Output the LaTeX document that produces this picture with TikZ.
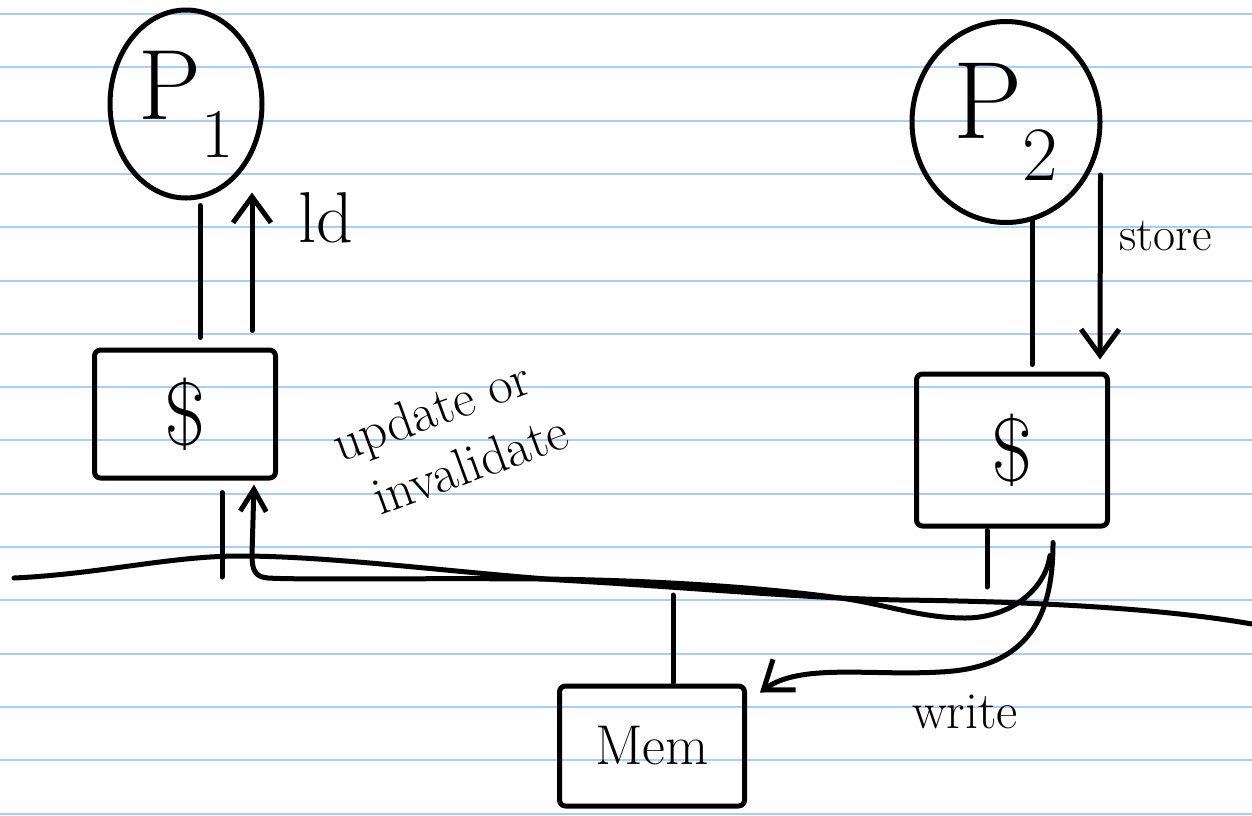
\documentclass[tikz,border=0pt]{standalone}
\usepackage{fontspec}
\usetikzlibrary{shapes.geometric,arrows.meta,calc}
\definecolor{ruleblue}{RGB}{166,206,248}
\tikzset{
  ink/.style={line width=5pt, line cap=round, line join=round, draw=black},
  proc/.style={ink, ellipse, inner sep=0pt},
  cachebox/.style={ink, rectangle, rounded corners=6pt, inner sep=0pt},
  barb/.style={-{Straight Barb[length=26pt,width=38pt]}},
  smallbarb/.style={-{Straight Barb[length=22pt,width=26pt]}},
  lbl/.style={inner sep=0pt},
}
\begin{document}
\begin{tikzpicture}[x=1pt,y=-1pt]
\useasboundingbox (0,0) rectangle (1252,815);
\fill[white] (0,0) rectangle (1252,815);
% ruled paper
\foreach \k in {0,...,15}
  \draw[ruleblue, line width=2pt] (0,{14+53.3*\k}) -- (1252,{14+53.3*\k});

% processors
\node[proc, minimum width=152pt, minimum height=188pt] (P1) at (186,104)
  {\fontsize{100}{100}\selectfont P\textsubscript{1}};
\node[proc, minimum width=188pt, minimum height=201pt] (P2) at (1006,122)
  {\fontsize{110}{110}\selectfont P\textsubscript{2}};

% caches and memory
\node[cachebox, minimum width=181pt, minimum height=128pt] (c1) at (185,414)
  {\fontsize{90}{90}\selectfont\$};
\node[cachebox, minimum width=191pt, minimum height=152pt] (c2) at (1012,450)
  {\fontsize{90}{90}\selectfont\$};
\node[cachebox, minimum width=185pt, minimum height=120pt] (mem) at (652,746)
  {\fontsize{56}{56}\selectfont Mem};

% labels
\node[lbl, font=\fontsize{72}{72}\selectfont] (ldl) at (326,218) {ld};
\node[lbl, font=\fontsize{48}{48}\selectfont] (storel) at (1166,236) {store};
\node[lbl, font=\fontsize{53}{64}\selectfont, rotate=20, align=left] (updl) at (450,437)
  {update or\\\hspace*{19pt}invalidate};
\node[lbl, font=\fontsize{52}{52}\selectfont] (writel) at (965,712) {write};

% bus
\coordinate (busW) at (14,578);
\coordinate (busE) at (1252,624);
\coordinate (busC1) at (222,577);
\coordinate (busM) at (673,595);
\coordinate (busC2) at (987,587);
\draw[ink] (busW) .. controls (100,574) and (170,556) .. (240,556)
  .. controls (330,556) and (450,572) .. (560,580)
  .. controls (700,588) and (800,598) .. (900,600)
  .. controls (1000,601) and (1150,606) .. (busE);

% processor to cache links
\draw[ink] ($(P1.south)+(14,5)$) -- ($(P1.south |- c1.north)+(14,-10)$);
\draw[ink, barb] ($(c1.north)+(67,-17)$) -- ($(P1.south)+(66,-8)$);
\draw[ink] ($(P2.south)+(26,-5)$) -- ($(c2.north)+(20,-7)$);
\draw[ink, barb] ($(P2.east)+(-2,53)$) -- ($(c2.north east)+(-10,-12)$);

% caches and memory to bus
\draw[ink] ($(c1.south)+(37,12)$) -- (busC1);
\draw[ink] ($(c2.south)+(-25,2)$) -- (busC2);
\draw[ink] (busM) -- ($(mem.north)+(21,-1)$);

% write-back to memory
\draw[ink, barb] ($(c2.south)+(41,14)$)
  .. controls (1053,615) and (1030,668) .. (940,672)
  .. controls (870,676) and (800,663) .. ($(mem.north east)+(13,9)$);

% update or invalidate the other cache
\draw[ink, smallbarb] ($(c2.south)+(38,27)$)
  .. controls (1045,590) and (1010,618) .. (965,618)
  .. controls (920,618) and (885,604) .. (840,598)
  .. controls (760,587) and (650,580) .. (540,579)
  .. controls (420,578) and (300,580) .. (268,578)
  .. controls (255,577) and (252,570) .. (252,555)
  -- ($(c1.south east)+(-24,4)$);
\end{tikzpicture}
\end{document}
